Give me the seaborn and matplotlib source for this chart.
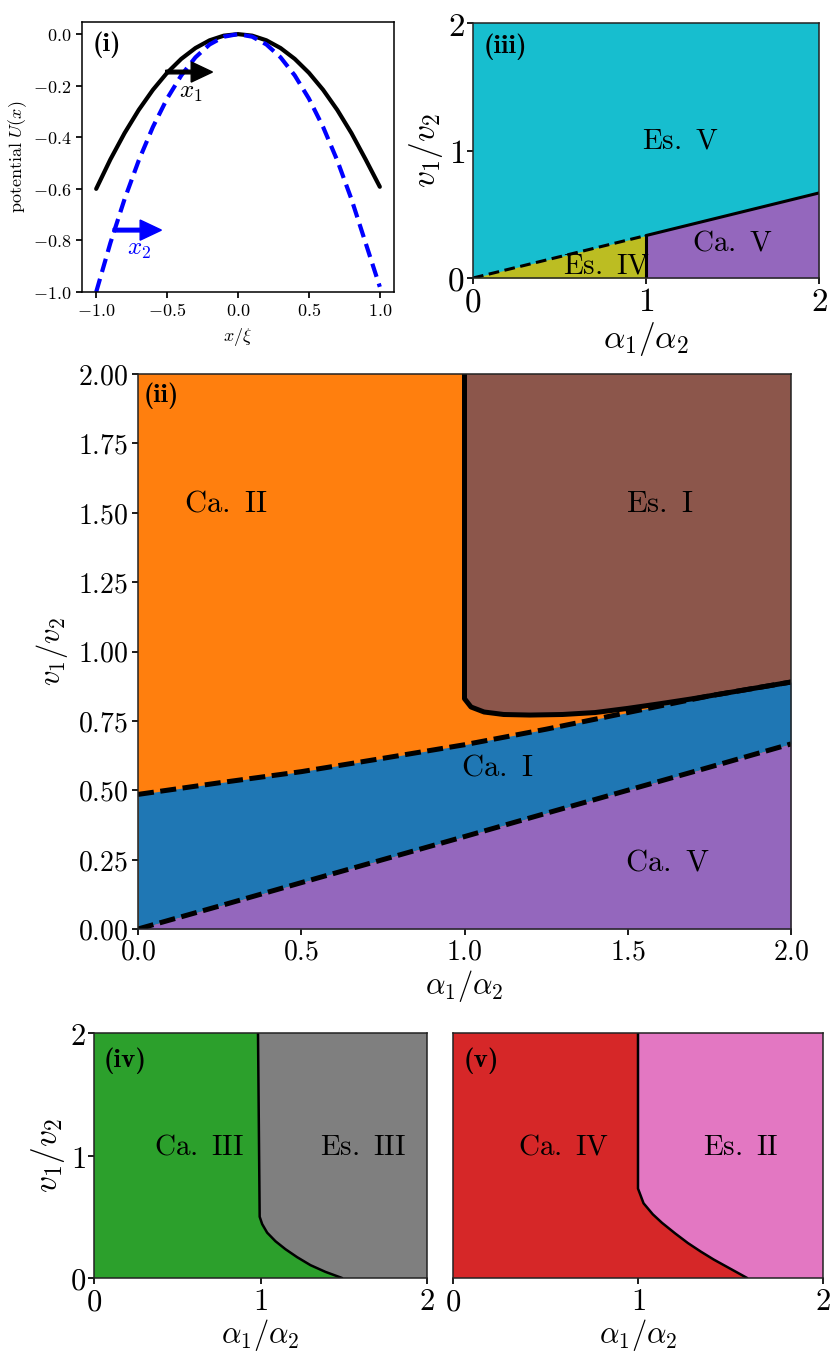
import matplotlib
matplotlib.use("Agg")
import matplotlib.pyplot as plt
import seaborn as sns
import pandas as pd
from matplotlib.ticker import FuncFormatter, FixedLocator

# ---------------- data ----------------
# panel (i): potential curves
u_x = [-1.0, -0.9, -0.8, -0.7, -0.6, -0.5, -0.4, -0.3, -0.2, -0.1, 0.0,
       0.1, 0.2, 0.3, 0.4, 0.5, 0.6, 0.7, 0.8, 0.9, 1.0]
u_black = [-0.600, -0.486, -0.384, -0.294, -0.216, -0.150, -0.096, -0.054, -0.024, -0.006, 0.0,
           -0.006, -0.024, -0.054, -0.096, -0.150, -0.216, -0.294, -0.384, -0.486, -0.592]
u_blue = [-1.00, -0.81, -0.64, -0.49, -0.36, -0.25, -0.16, -0.09, -0.04, -0.01, 0.0,
          -0.01, -0.04, -0.09, -0.16, -0.25, -0.36, -0.49, -0.64, -0.81, -0.98]
arrow1 = (-0.51, -0.147, 0.33)   # tail x, y, length
arrow2 = (-0.88, -0.760, 0.34)

# panel (ii): phase boundaries
ii_alpha = [0.0, 0.25, 0.5, 0.75, 1.0, 1.25, 1.5, 1.75, 2.0]
ii_upper = [0.485, 0.527, 0.567, 0.615, 0.664, 0.720, 0.780, 0.840, 0.890]
ii_lower = [0.0, 0.083, 0.167, 0.250, 0.333, 0.417, 0.500, 0.583, 0.667]
esI_alpha = [1.0, 1.0, 1.02, 1.06, 1.12, 1.2, 1.3, 1.4, 1.5, 1.6, 1.7, 1.8, 1.9, 2.0]
esI_v = [2.0, 0.83, 0.80, 0.782, 0.773, 0.771, 0.773, 0.78, 0.795, 0.812, 0.83, 0.85, 0.87, 0.89]

# panel (iii)
iii_dash_alpha = [0.0, 1.0]
iii_dash_v = [0.0, 0.333]
iii_solid_alpha = [1.0, 2.0]
iii_solid_v = [0.333, 0.667]

# panel (iv)
iv_alpha = [0.985, 0.995, 1.01, 1.04, 1.09, 1.15, 1.22, 1.30, 1.39, 1.49]
iv_v = [2.0, 0.50, 0.44, 0.37, 0.30, 0.235, 0.17, 0.105, 0.05, 0.0]

# panel (v)
v_alpha = [1.0, 1.0, 1.03, 1.08, 1.13, 1.20, 1.27, 1.34, 1.41, 1.50, 1.59]
v_v = [2.0, 0.73, 0.61, 0.52, 0.45, 0.365, 0.285, 0.215, 0.15, 0.075, 0.0]

ticks_i_x = [-1.0, -0.5, 0.0, 0.5, 1.0]
ticks_i_y = [0.0, -0.2, -0.4, -0.6, -0.8, -1.0]
ticks_ii_x = [0.0, 0.5, 1.0, 1.5, 2.0]
ticks_ii_y = [0.0, 0.25, 0.5, 0.75, 1.0, 1.25, 1.5, 1.75, 2.0]
ticks_small = [0, 1, 2]

# ---------------- style ----------------
sns.set_theme(style="ticks")
plt.rcParams.update({
    "mathtext.fontset": "cm",
    "font.family": ["DejaVu Serif"],
    "text.color": "black",
    "axes.labelcolor": "black",
    "axes.edgecolor": "#222222",
    "axes.linewidth": 1.1,
    "xtick.direction": "out",
    "ytick.direction": "out",
    "xtick.major.size": 4,
    "ytick.major.size": 4,
    "xtick.color": "black",
    "ytick.color": "black",
    "xtick.labelcolor": "black",
    "ytick.labelcolor": "black",
})

C_OR, C_BR, C_BL, C_PU = "#ff7f0e", "#8c564b", "#1f77b4", "#9467bd"
C_CY, C_OL, C_GR, C_GY = "#17becf", "#bcbd22", "#2ca02c", "#7f7f7f"
C_RD, C_PK = "#d62728", "#e377c2"

W, H = 830, 1355
fig = plt.figure(figsize=(W / 100, H / 100), dpi=100)


def add_ax(l, t, r, b):
    return fig.add_axes([l / W, 1 - b / H, (r - l) / W, (b - t) / H])


def mfmt(fmt):
    return FuncFormatter(lambda v, p: "$" + (fmt % v) + "$")


def line(ax, xs, ys, **kw):
    df = pd.DataFrame({"x": xs, "y": ys})
    sns.lineplot(data=df, x="x", y="y", ax=ax, sort=False, estimator=None, **kw)


def mtext(ax, x, y, s, size, **kw):
    ax.text(x, y, s, fontsize=size, ha="center", va="center", color="black", **kw)


def plabel(ax, x, y, s, size=19.5):
    ax.text(x, y, s, transform=ax.transAxes, fontsize=size, family="cmb10",
            ha="left", va="top", color="black")


# ---------------- panel (i) ----------------
ax1 = add_ax(82, 22, 394, 292)
line(ax1, u_x, u_black, color="black", lw=3)
line(ax1, u_x, u_blue, color="#0000ff", lw=3)
ax1.lines[-1].set_linestyle((0, (3.3, 1.7)))
ax1.arrow(arrow1[0], arrow1[1], arrow1[2], 0, width=0.014, head_width=0.078,
          head_length=0.15, length_includes_head=True, color="black", zorder=5)
ax1.arrow(arrow2[0], arrow2[1], arrow2[2], 0, width=0.014, head_width=0.078,
          head_length=0.15, length_includes_head=True, color="#0000ff", zorder=5)
ax1.text(-0.33, -0.225, r"$x_1$", fontsize=18, ha="center", va="center", color="black")
ax1.text(-0.70, -0.835, r"$x_2$", fontsize=18, ha="center", va="center", color="#0000ff")
ax1.set_xlim(-1.1, 1.1)
ax1.set_ylim(-1.0, 0.047)
ax1.xaxis.set_major_locator(FixedLocator(ticks_i_x))
ax1.yaxis.set_major_locator(FixedLocator(ticks_i_y))
ax1.xaxis.set_major_formatter(mfmt("%.1f"))
ax1.yaxis.set_major_formatter(mfmt("%.1f"))
ax1.tick_params(labelsize=13)
ax1.set_xlabel(r"$x/\xi$", fontsize=13, labelpad=4)
ax1.set_ylabel(r"$\mathrm{potential}\ U(x)$", fontsize=13, labelpad=3)
plabel(ax1, 0.035, 0.965, "(i)")
for s in ax1.spines.values():
    s.set_color("black")

# ---------------- panel (iii) ----------------
ax3 = add_ax(473, 23, 819, 278)
ax3.set_facecolor(C_CY)
ax3.fill_between(iii_dash_alpha, 0, iii_dash_v, color=C_OL, lw=0)
ax3.fill_between(iii_solid_alpha, 0, iii_solid_v, color=C_PU, lw=0)
line(ax3, iii_dash_alpha, iii_dash_v, color="black", lw=2.2)
ax3.lines[-1].set_linestyle((0, (3.5, 1.8)))
line(ax3, iii_solid_alpha, iii_solid_v, color="black", lw=2.2)
line(ax3, [1.0, 1.0], [0.0, 0.333], color="black", lw=2.2)
mtext(ax3, 1.2, 1.08, r"$\mathrm{Es.\ V}$", 21)
mtext(ax3, 0.77, 0.10, r"$\mathrm{Es.\ IV}$", 21)
mtext(ax3, 1.5, 0.28, r"$\mathrm{Ca.\ V}$", 21)
plabel(ax3, 0.03, 0.96, "(iii)")
ax3.set_xlim(0, 2)
ax3.set_ylim(0, 2)
ax3.xaxis.set_major_locator(FixedLocator(ticks_small))
ax3.yaxis.set_major_locator(FixedLocator(ticks_small))
ax3.xaxis.set_major_formatter(mfmt("%d"))
ax3.yaxis.set_major_formatter(mfmt("%d"))
ax3.tick_params(labelsize=24, pad=2)
ax3.set_xlabel(r"$\alpha_1/\alpha_2$", fontsize=24, labelpad=1)
ax3.set_ylabel(r"$v_1/v_2$", fontsize=24, labelpad=2)

# ---------------- panel (ii) ----------------
ax2 = add_ax(138, 374, 791, 929)
ax2.set_facecolor(C_OR)
ax2.fill_between(ii_alpha, ii_lower, ii_upper, color=C_BL, lw=0)
ax2.fill_between(ii_alpha, 0, ii_lower, color=C_PU, lw=0)
ax2.fill(esI_alpha + [2.0], esI_v + [2.0], color=C_BR, lw=0)
line(ax2, ii_alpha, ii_upper, color="black", lw=3.6)
ax2.lines[-1].set_linestyle((0, (3.2, 1.3)))
line(ax2, ii_alpha, ii_lower, color="black", lw=3.6)
ax2.lines[-1].set_linestyle((0, (3.2, 1.3)))
line(ax2, esI_alpha, esI_v, color="black", lw=3.6)
mtext(ax2, 0.27, 1.535, r"$\mathrm{Ca.\ II}$", 22)
mtext(ax2, 1.60, 1.535, r"$\mathrm{Es.\ I}$", 22)
mtext(ax2, 1.10, 0.585, r"$\mathrm{Ca.\ I}$", 22)
mtext(ax2, 1.62, 0.24, r"$\mathrm{Ca.\ V}$", 22)
plabel(ax2, 0.008, 0.985, "(ii)", 19)
ax2.set_xlim(0, 2)
ax2.set_ylim(0, 2)
ax2.xaxis.set_major_locator(FixedLocator(ticks_ii_x))
ax2.yaxis.set_major_locator(FixedLocator(ticks_ii_y))
ax2.xaxis.set_major_formatter(mfmt("%.1f"))
ax2.yaxis.set_major_formatter(mfmt("%.2f"))
ax2.tick_params(labelsize=20, pad=3)
ax2.set_xlabel(r"$\alpha_1/\alpha_2$", fontsize=22, labelpad=2)
ax2.set_ylabel(r"$v_1/v_2$", fontsize=22, labelpad=6)

# ---------------- panel (iv) ----------------
ax4 = add_ax(94, 1033, 427, 1278)
ax4.set_facecolor(C_GR)
ax4.fill(iv_alpha + [2.0, 2.0], iv_v + [0.0, 2.0], color=C_GY, lw=0)
line(ax4, iv_alpha, iv_v, color="black", lw=1.8)
mtext(ax4, 0.63, 1.07, r"$\mathrm{Ca.\ III}$", 21)
mtext(ax4, 1.615, 1.07, r"$\mathrm{Es.\ III}$", 21)
plabel(ax4, 0.03, 0.94, "(iv)")
ax4.set_xlim(0, 2)
ax4.set_ylim(0, 2)
ax4.xaxis.set_major_locator(FixedLocator(ticks_small))
ax4.yaxis.set_major_locator(FixedLocator(ticks_small))
ax4.xaxis.set_major_formatter(mfmt("%d"))
ax4.yaxis.set_major_formatter(mfmt("%d"))
ax4.tick_params(labelsize=22, pad=2)
ax4.set_xlabel(r"$\alpha_1/\alpha_2$", fontsize=22, labelpad=0)
ax4.set_ylabel(r"$v_1/v_2$", fontsize=24, labelpad=2)

# ---------------- panel (v) ----------------
ax5 = add_ax(453, 1033, 823, 1278)
ax5.set_facecolor(C_RD)
ax5.fill(v_alpha + [2.0, 2.0], v_v + [0.0, 2.0], color=C_PK, lw=0)
line(ax5, v_alpha, v_v, color="black", lw=1.8)
mtext(ax5, 0.60, 1.07, r"$\mathrm{Ca.\ IV}$", 21)
mtext(ax5, 1.557, 1.07, r"$\mathrm{Es.\ II}$", 21)
plabel(ax5, 0.03, 0.94, "(v)")
ax5.set_xlim(0, 2)
ax5.set_ylim(0, 2)
ax5.xaxis.set_major_locator(FixedLocator(ticks_small))
ax5.xaxis.set_major_formatter(mfmt("%d"))
ax5.set_yticks([])
ax5.tick_params(labelsize=22, pad=2)
ax5.set_xlabel(r"$\alpha_1/\alpha_2$", fontsize=22, labelpad=0)
ax5.set_ylabel("")

for ax in (ax1, ax2, ax3, ax4, ax5):
    leg = ax.get_legend()
    if leg is not None:
        leg.remove()

fig.savefig("out.png", dpi=100)
